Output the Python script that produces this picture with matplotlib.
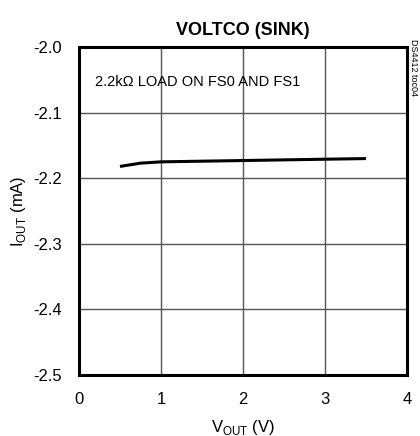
import matplotlib
matplotlib.use("Agg")
import matplotlib.pyplot as plt
from matplotlib import font_manager

# curve
vout = [0.5, 0.75, 1.0, 1.5, 2.0, 2.5, 3.0, 3.5]
iout = [-2.182, -2.177, -2.175, -2.174, -2.173, -2.172, -2.171, -2.170]

x_ticks = [0, 1, 2, 3, 4]
y_ticks = [-2.5, -2.4, -2.3, -2.2, -2.1, -2.0]

names = {f.name for f in font_manager.fontManager.ttflist}
fam = "Liberation Sans Narrow" if "Liberation Sans Narrow" in names else "Liberation Sans"
plt.rcParams["font.family"] = [fam, "DejaVu Sans"]
plt.rcParams["mathtext.fontset"] = "custom"
plt.rcParams["mathtext.rm"] = fam

fig = plt.figure(figsize=(4.2, 4.36), dpi=100)
ax = fig.add_axes([0.188, 0.140, 0.781, 0.752])

ax.plot(vout, iout, color="black", lw=2.2, solid_capstyle="butt")

ax.set_xlim(0, 4)
ax.set_ylim(-2.5, -2.0)
ax.set_xticks(x_ticks)
ax.set_yticks(y_ticks)
ax.set_yticklabels([f"{v:.1f}" for v in y_ticks])
ax.tick_params(length=0, labelsize=12, pad=12)
ax.grid(True, color="#555555", lw=1.0)
for s in ax.spines.values():
    s.set_linewidth(2.2)

ax.set_xlabel(r"V$_{\mathregular{OUT}}$ (V)", fontsize=12, labelpad=8)
ax.set_ylabel(r"I$_{\mathregular{OUT}}$ (mA)", fontsize=12, labelpad=4)
ax.set_title("VOLTCO (SINK)", fontsize=13, fontweight="heavy", pad=9)

ax.text(0.05, 0.895, "2.2k\u03a9 LOAD ON FS0 AND FS1", transform=ax.transAxes,
        fontsize=10.5, va="center", ha="left")
fig.text(0.984, 0.91, "DS4412 toc04", rotation=270, fontsize=6.5,
         va="top", ha="center")

fig.savefig("out.png", dpi=100)
